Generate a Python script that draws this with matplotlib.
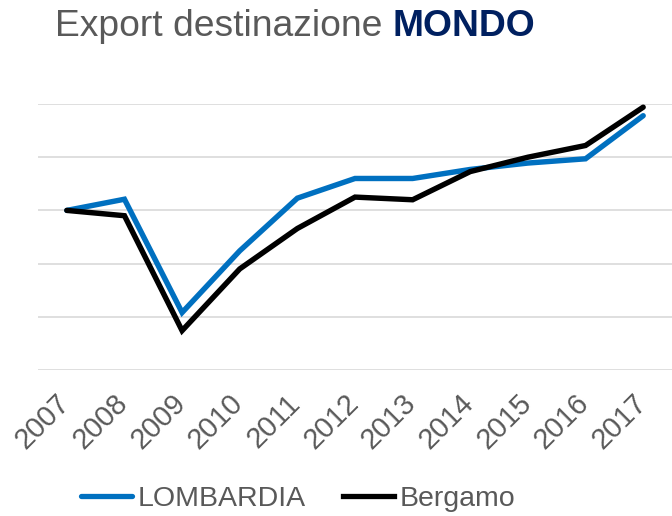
import matplotlib
matplotlib.use("Agg")
import matplotlib.pyplot as plt
from matplotlib.lines import Line2D
from matplotlib.transforms import ScaledTranslation

years = ["2007", "2008", "2009", "2010", "2011", "2012", "2013", "2014", "2015", "2016", "2017"]
lombardia = [100.0, 102.1, 80.8, 92.4, 102.3, 106.0, 106.0, 107.7, 108.9, 109.7, 117.8]
bergamo = [100.0, 99.0, 77.4, 89.0, 96.6, 102.5, 102.0, 107.3, 110.0, 112.2, 119.4]

plt.rcParams['font.family'] = ['Liberation Sans', 'DejaVu Sans']
W, H = 672, 516
fig = plt.figure(figsize=(W/100, H/100), dpi=100)
ax = fig.add_axes([38/W, (H-370)/H, (672-38)/W, (370-104)/H])

x = list(range(len(years)))
ax.plot(x, lombardia, color='#0070C0', lw=3.9, solid_capstyle='round', solid_joinstyle='miter', clip_on=False, zorder=3, label='LOMBARDIA')
ax.plot(x, bergamo, color='#000000', lw=3.9, solid_capstyle='round', solid_joinstyle='miter', clip_on=False, zorder=4, label='Bergamo')

ax.set_xlim(-0.5, len(years)-0.5)
ax.set_ylim(70, 120)
ax.set_yticks([70, 80, 90, 100, 110, 120])
ax.yaxis.grid(True, color='#d9d9d9', lw=1.2)
ax.set_axisbelow(True)
ax.tick_params(axis='y', left=False, labelleft=False)
ax.tick_params(axis='x', length=0, pad=21)
for s in ax.spines.values():
    s.set_visible(False)
ax.set_xticks(x)
ax.set_xticklabels(years, rotation=45, ha='right', va='center', rotation_mode='anchor', fontsize=20.8, color='#595959')
off = ScaledTranslation(-1/100, 0, fig.dpi_scale_trans)
for lab in ax.get_xticklabels():
    lab.set_transform(lab.get_transform() + off)
ax.patch.set_alpha(0)

t1 = fig.text(55/W, 1-36/H, 'Export destinazione ', fontsize=26.8, color='#595959', va='baseline', ha='left')
r = fig.canvas.get_renderer()
bb = t1.get_window_extent(renderer=r)
fig.text(bb.x1/W, 1-36/H, 'MONDO', fontsize=26.8, color='#002060', fontweight='bold', va='baseline', ha='left')

handles = [Line2D([], [], color='#0070C0', lw=3.8, solid_capstyle='round'),
           Line2D([], [], color='#000000', lw=3.8)]
fig.legend(handles, ['LOMBARDIA', 'Bergamo'], loc='center', bbox_to_anchor=(298/W, 1-499/H),
           ncol=2, frameon=False, fontsize=20.5, labelcolor='#595959', handlelength=1.8,
           handletextpad=0.2, columnspacing=1.3)

fig.savefig('out.png', dpi=100)
